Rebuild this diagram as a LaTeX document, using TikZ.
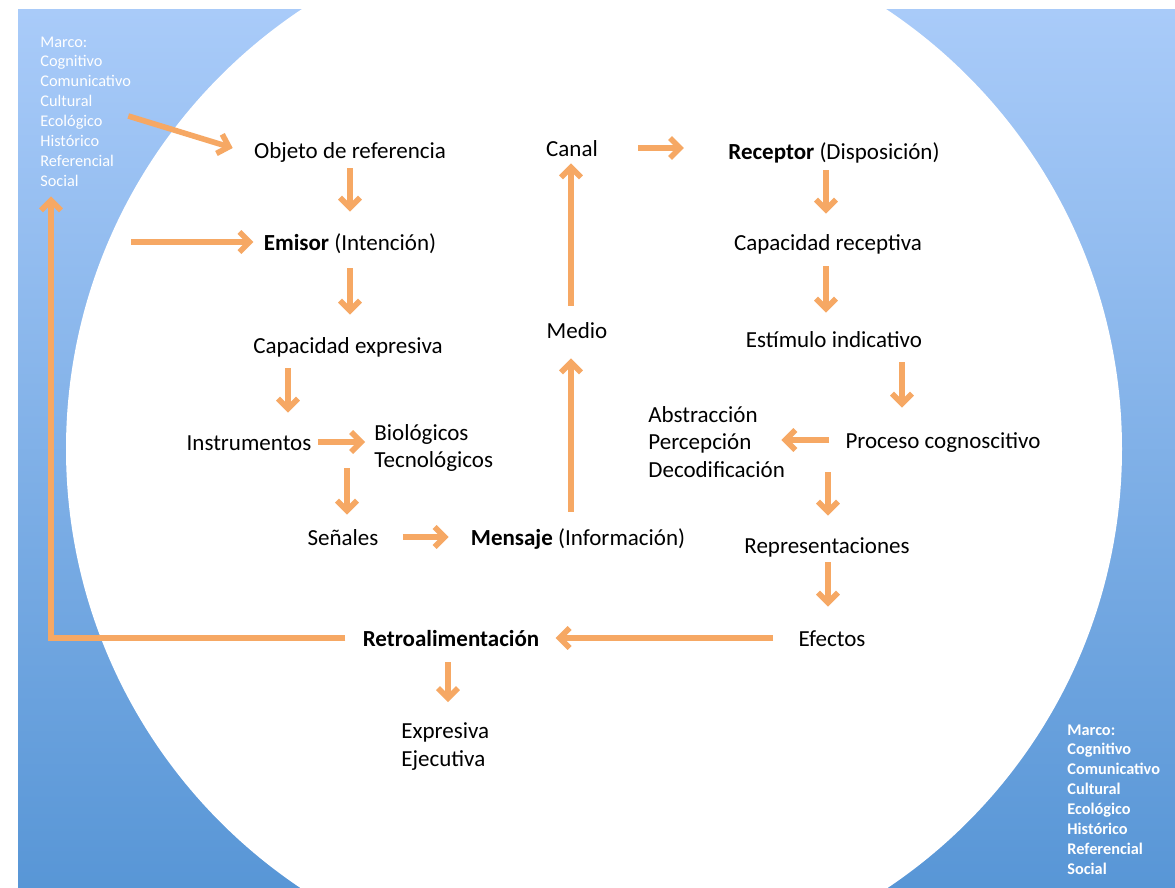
\documentclass[tikz,border=0pt]{standalone}
\usepackage{fontspec}
\setmainfont{Carlito}
\usepackage{tikz}
\usetikzlibrary{arrows.meta}
\usetikzlibrary{calc}

\definecolor{flecha}{RGB}{246,168,100}
\definecolor{azulsup}{RGB}{169,203,249}
\definecolor{azulinf}{RGB}{88,150,214}

\begin{document}
\begin{tikzpicture}[x=0.5pt, y=-0.5pt,
  txt/.style={inner sep=0pt, font=\fontsize{11.5}{14}\selectfont, text height=9.75pt, text depth=1.25pt},
  multi/.style={inner sep=0pt, font=\fontsize{11.5}{13.75}\selectfont, align=left, anchor=west},
  marco/.style={inner sep=0pt, font=\fontsize{8.15}{9.95}\selectfont, text=white, align=left, anchor=west},
  arr/.style={draw=flecha, line width=2.8pt, -{Straight Barb[length=5pt,width=10pt]}}]

\useasboundingbox (0,0) rectangle (1175,888);
\begin{scope}
\clip (18,10) rectangle (1175,888);
\fill[top color=azulsup, bottom color=azulinf] (18,10) rectangle (1175,888);
\fill[white] (594,449) circle [radius=528];
\end{scope}

\node[marco] (marcoL) at (40,111.5) {Marco:\\Cognitivo\\Comunicativo\\Cultural\\Ecológico\\Histórico\\Referencial\\Social};
\node[marco, font=\fontsize{8.15}{9.95}\selectfont\bfseries] (marcoR) at (1067,799.5) {Marco:\\Cognitivo\\Comunicativo\\Cultural\\Ecológico\\Histórico\\Referencial\\Social};

\node[txt] (objeto) at (350,150) {Objeto de referencia};
\node[txt] (canal) at (572,148) {Canal};
\node[txt] (receptor) at (834,151) {\textbf{Receptor} (Disposición)};
\node[txt] (emisor) at (350,242) {\textbf{Emisor} (Intención)};
\node[txt] (caprec) at (828,242) {Capacidad receptiva};
\node[txt] (medio) at (577,330) {Medio};
\node[txt] (capexp) at (348,345) {Capacidad expresiva};
\node[txt] (estimulo) at (834,339) {Estímulo indicativo};
\node[multi] (abstr) at (648,442) {Abstracción\\Percepción\\Decodificación};
\node[txt] (proceso) at (943,440) {Proceso cognoscitivo};
\node[txt] (inst) at (249,442) {Instrumentos};
\node[multi] (bio) at (374,448) {Biológicos\\Tecnológicos};
\node[txt] (senales) at (343,537) {Señales};
\node[txt] (mensaje) at (578,537) {\textbf{Mensaje} (Información)};
\node[txt] (repres) at (827,545) {Representaciones};
\node[txt] (retro) at (451,638) {\textbf{Retroalimentación}};
\node[txt] (efectos) at (832,638) {Efectos};
\node[multi] (expres) at (401,746.5) {Expresiva\\Ejecutiva};

\coordinate (entrada) at (131,242);

% lado del emisor
\draw[arr] ([xshift=-1.5pt,yshift=-2.25pt]marcoL.east) -- ([xshift=-10.5pt,yshift=1pt]objeto.west);
\draw[arr, shorten <=3.5pt, shorten >=9.5pt] (objeto.south) -- (emisor.north);
\draw[arr, shorten >=5pt] (entrada) -- (emisor.west);
\draw[arr, shorten <=7.5pt, shorten >=9.5pt] (emisor.south) -- (emisor.south |- capexp.north);
\draw[arr, shorten <=6pt, shorten >=9pt] ([xshift=-30pt]capexp.south) -- ([xshift=-30pt]capexp.south |- inst.north);
\draw[arr, shorten <=3pt, shorten >=4.5pt] (inst.east) -- (inst.east -| bio.west);
\draw[arr, shorten <=-2pt, shorten >=5.5pt] ([xshift=2pt]senales.north |- bio.south) -- ([xshift=2pt]senales.north);
\draw[arr, shorten <=12pt, shorten >=11pt] (senales.east) -- (mensaje.west);

% canal
\draw[arr, shorten <=7pt, shorten >=8.5pt] ([xshift=-3.5pt]mensaje.north) -- ([xshift=-3.5pt]mensaje.north |- medio.south);
\draw[arr, shorten <=6.5pt, shorten >=2pt] ([xshift=-3pt]medio.north) -- ([xshift=-3pt]medio.north |- canal.south);
\draw[arr, shorten <=20pt, shorten >=22pt] (canal.east) -- (canal.east -| receptor.west);

% lado del receptor
\draw[arr, shorten <=4pt, shorten >=8.5pt] ([xshift=-4pt]receptor.south) -- ([xshift=-4pt]receptor.south |- caprec.north);
\draw[arr, shorten <=6.5pt, shorten >=7.5pt] ([xshift=-1pt]caprec.south) -- ([xshift=-1pt]caprec.south |- estimulo.north);
\draw[arr, shorten <=6pt, shorten >=10.5pt] ([xshift=-20.5pt]proceso.north |- estimulo.south) -- ([xshift=-20.5pt]proceso.north);
\draw[arr, shorten <=8pt, shorten >=-2pt] (proceso.west) -- (proceso.west -| abstr.east);
\draw[arr, shorten <=10.5pt, shorten >=9pt] ([xshift=0.5pt]repres.north |- proceso.south) -- ([xshift=0.5pt]repres.north);
\draw[arr, shorten <=3pt, shorten >=10pt] ([xshift=0.5pt]repres.south) -- ([xshift=0.5pt]repres.south |- efectos.north);
\draw[arr, shorten <=12.5pt, shorten >=8pt] (efectos.west) -- (retro.east);

% retroalimentacion
\draw[arr, shorten <=8.5pt, shorten >=4.8pt] (retro.west) -| ([xshift=5.5pt]marcoL.south west);
\draw[arr, shorten <=6.5pt, shorten >=10.2pt] ([xshift=-1.5pt]retro.south) -- ([xshift=-1.5pt]retro.south |- expres.north);
\end{tikzpicture}
\end{document}
